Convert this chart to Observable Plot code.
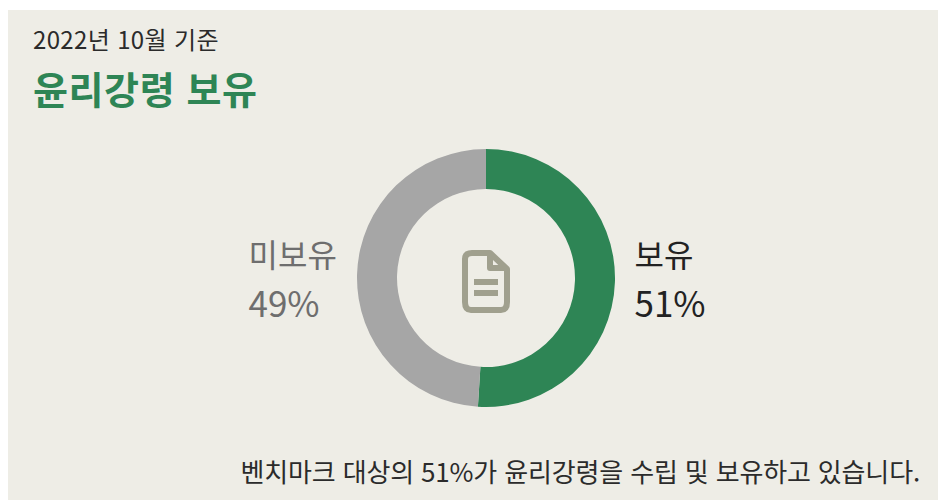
<!DOCTYPE html>
<html lang="ko"><head><meta charset="utf-8">
<script src="https://cdn.jsdelivr.net/npm/d3@7"></script>
<script src="https://cdn.jsdelivr.net/npm/@observablehq/plot@0.6"></script>
<style>
html,body{margin:0;padding:0;background:#fff;overflow:hidden}
#card{position:absolute;left:8px;top:10px;width:930px;height:490px;background:#eeede6;font-family:"Noto Sans CJK KR","Noto Sans",sans-serif}
#sub{position:absolute;left:25px;top:11px;font-size:24px;letter-spacing:0.35px;line-height:36px;color:#2b2b2b;white-space:nowrap}
#title{position:absolute;left:25px;top:52px;font-size:38px;line-height:52px;font-weight:700;color:#2e8555;white-space:nowrap;letter-spacing:0.6px}
#cap{position:absolute;right:18px;top:443px;font-size:26px;line-height:36px;color:#2b2b2b;white-space:nowrap;letter-spacing:-0.16px}
#chart{position:absolute;left:0;top:0}
#chart svg{background:transparent;display:block}
</style></head><body>
<div id="card"><div id="chart"></div>
<div id="sub"></div><div id="title"></div><div id="cap"></div></div>
<script>
const subtitle = "2022년 10월 기준";
const title = "윤리강령 보유";
const caption = "벤치마크 대상의 51%가 윤리강령을 수립 및 보유하고 있습니다.";
const categories = ["보유", "미보유"];
const shares = [51, 49];
const colors = ["#2e8555", "#a6a6a6"];
const labelColors = ["#222222", "#6e6e6e"];

document.getElementById("sub").textContent = subtitle;
document.getElementById("title").textContent = title;
document.getElementById("cap").textContent = caption;

const rows = categories.map((name, i) => ({name, share: shares[i], text: shares[i] + "%"}));
const W = 930, H = 490, cx = 478, cy = 268;

function ring(index, scales, ch) {
  const g = d3.create("svg:g").attr("transform", `translate(${cx},${cy})`);
  const arc = d3.arc();
  for (const i of index) {
    g.append("path").attr("fill", ch.fill[i]).attr("d", arc({
      startAngle: ch.x1[i], endAngle: ch.x2[i],
      innerRadius: ch.y1[i], outerRadius: ch.y2[i]
    }));
  }
  return g.node();
}
function icon() {
  const g = d3.create("svg:g").attr("transform", `translate(${cx},${cy})`)
    .attr("fill", "none").attr("stroke", "#a0a08e").attr("stroke-width", 6).attr("stroke-linejoin", "round");
  g.append("path").attr("d", "M-14,-25 H4 L21,-9 V24 Q21,32 15,32 H-15 Q-21,32 -21,24 V-19 Q-21,-25 -14,-25 Z");
  g.append("path").attr("d", "M4,-25 V-10 H21");
  g.append("path").attr("d", "M-12,4 H12 M-12,15 H12").attr("stroke-linecap", "butt");
  return g.node();
}
const sideLabel = (row, field, size, dx, dy, anchor, fill) => Plot.text([row], {
  text: field, frameAnchor: "middle", textAnchor: anchor, dx, dy, fontSize: size, fill, fontWeight: 400
});

const plot = Plot.plot({
  width: W, height: H, margin: 0,
  style: {background: "transparent", fontFamily: '"Noto Sans CJK KR","Noto Sans",sans-serif'},
  x: {domain: [0, 100], range: [0, 2 * Math.PI], axis: null},
  y: {domain: [0, 1], range: [89, 129], axis: null},
  color: {domain: categories, range: colors},
  marks: [
    Plot.rectX(rows, Plot.stackX({x: "share", y1: () => 0, y2: () => 1, fill: "name", render: ring})),
    icon,
    sideLabel(rows[0], "name", 32, 161, 1, "start", labelColors[0]),
    sideLabel(rows[0], "text", 35, 161, 50, "start", labelColors[0]),
    sideLabel(rows[1], "name", 32, -225, 1, "start", labelColors[1]),
    sideLabel(rows[1], "text", 35, -225, 50, "start", labelColors[1])
  ]
});
document.getElementById("chart").append(plot);
</script></body></html>
